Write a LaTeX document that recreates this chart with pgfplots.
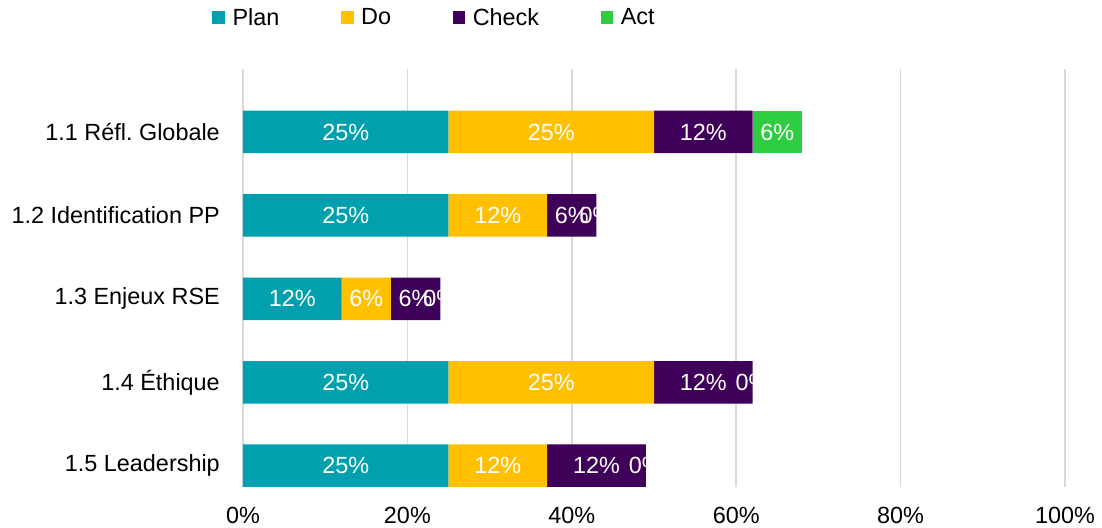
\documentclass[border=0pt]{standalone}
\usepackage{fontspec}
\setmainfont{Liberation Sans}
\usepackage{pgfplots}
\usepackage{pgfplotstable}
\pgfplotsset{compat=1.18}
\definecolor{cPlan}{RGB}{0,160,174}
\definecolor{cDo}{RGB}{255,192,0}
\definecolor{cCheck}{RGB}{62,0,88}
\definecolor{cAct}{RGB}{46,204,64}
\definecolor{cGrid}{RGB}{217,217,217}

\pgfplotstableread{
idx plan do check act
0 25 25 12 6
1 25 12 6 0
2 12 6 6 0
3 25 25 12 0
4 25 12 12 0
}\data

\newcommand{\ff}{\fontsize{23.5}{28}\selectfont}

\pgfplotsset{
 base/.style={
  scale only axis, width=822bp, height=418bp,
  xmin=0, xmax=100, ymin=-0.755, ymax=4.255, y dir=reverse,
  font=\ff, /pgf/number format/assume math mode=true,
 },
 lbl/.style={only marks, mark=*, mark size=0pt, mark options={draw=none, fill=none},
  point meta=explicit,
  nodes near coords={\pgfmathprintnumber[assume math mode=true]{\pgfplotspointmeta}\%},
  nodes near coords style={anchor=center, text=white, inner sep=0pt, font=\ff}},
}

\begin{document}
\frenchspacing
\begin{tikzpicture}
\begin{axis}[base, name=main,
  xbar stacked, bar width=42.5bp,
  every axis plot/.append style={legend image code/.code={\fill[#1] (0bp,-6.35bp) rectangle (12.7bp,6.35bp);}},
  xmajorgrids, grid style={cGrid, line width=1.6bp},
  axis line style={draw=none}, tick style={draw=none},
  xtick={0,20,...,100}, xticklabel={\pgfmathprintnumber{\tick}\%},
  ytick={0,...,4},
  yticklabels={1.1 Réfl.\ Globale, 1.2 Identification PP, 1.3 Enjeux RSE, 1.4 Éthique, 1.5 Leadership},
  yticklabel style={inner sep=0pt, xshift=-23bp, font=\ff},
  xticklabel style={inner sep=0pt, yshift=-19.5bp, font=\ff},
  legend columns=4,
  legend style={draw=none, fill=none, font=\ff, at={(-0.0375,1.1232)}, anchor=west,
    inner xsep=0pt, inner ysep=0pt, nodes={inner xsep=2.5bp, inner ysep=0pt},
    /tikz/every odd column/.append style={column sep=5bp},
    /tikz/every even column/.append style={column sep=59bp}},
]
\addplot[fill=cPlan, draw=none] table[x=plan, y=idx]{\data};
\addplot[fill=cDo, draw=none] table[x=do, y=idx]{\data};
\addplot[fill=cCheck, draw=none] table[x=check, y=idx]{\data};
\addplot[fill=cAct, draw=none] table[x=act, y=idx]{\data};
\legend{Plan, Do, Check, Act}
\end{axis}
\begin{axis}[base, hide axis, clip=false]
\addplot[lbl] table[x expr=\thisrow{plan}/2, y=idx, meta=plan]{\data};
\addplot[lbl] table[x expr=\thisrow{plan}+\thisrow{do}/2, y=idx, meta=do]{\data};
\addplot[lbl] table[x expr=\thisrow{plan}+\thisrow{do}+\thisrow{check}/2, y=idx, meta=check]{\data};
\addplot[lbl] table[x expr=\thisrow{plan}+\thisrow{do}+\thisrow{check}+\thisrow{act}/2, y=idx, meta=act]{\data};
\end{axis}
\pgfresetboundingbox
\path[use as bounding box] ([xshift=-243bp,yshift=-41bp]main.south west) rectangle ([xshift=37bp,yshift=69bp]main.north east);
\end{tikzpicture}
\end{document}
